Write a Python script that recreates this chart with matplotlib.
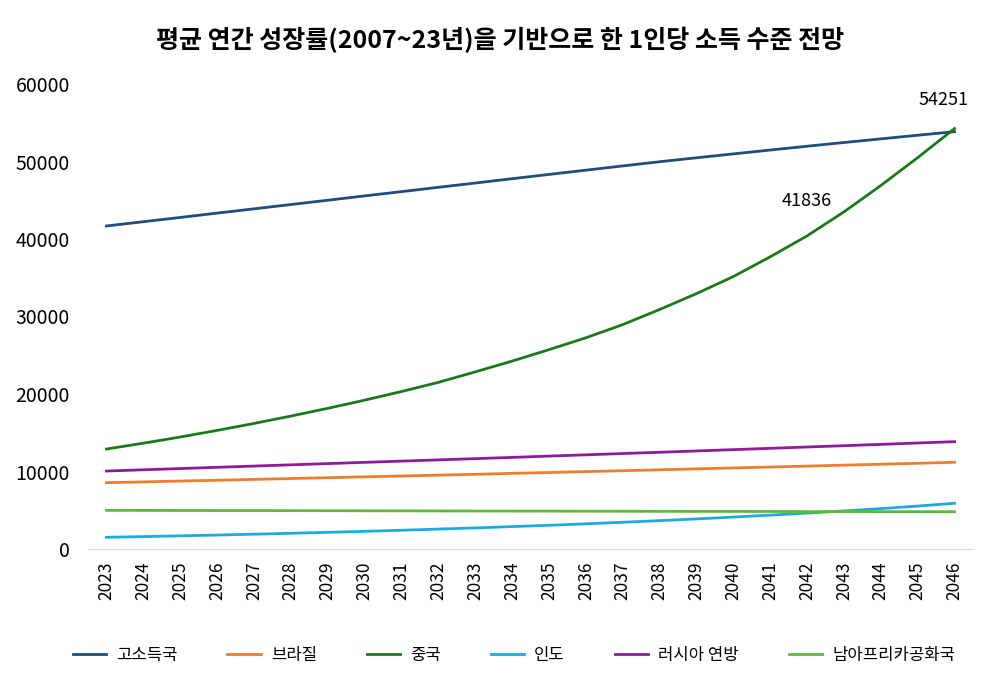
import matplotlib
matplotlib.use("Agg")
import matplotlib.pyplot as plt

plt.rcParams["font.family"] = ["Noto Sans CJK KR", "DejaVu Sans"]

years = list(range(2023, 2047))

high_income = [41680, 42230, 42780, 43340, 43890, 44450, 45000, 45560, 46110,
               46670, 47220, 47780, 48330, 48880, 49430, 49970, 50480, 50980,
               51480, 51970, 52450, 52920, 53390, 53850]
brazil = [8560, 8660, 8770, 8870, 8980, 9090, 9200, 9310, 9420, 9530, 9640,
          9760, 9870, 9990, 10100, 10220, 10340, 10460, 10580, 10700, 10820,
          10940, 11060, 11190]
china = [12900, 13650, 14450, 15300, 16200, 17150, 18150, 19200, 20320, 21500,
         22850, 24250, 25720, 27250, 28950, 30900, 32950, 35150, 37700, 40400,
         43500, 46900, 50500, 54251]
india = [1510, 1600, 1700, 1800, 1910, 2030, 2150, 2280, 2420, 2570, 2720,
         2890, 3060, 3250, 3450, 3660, 3880, 4120, 4370, 4630, 4910, 5210,
         5540, 5900]
russia = [10060, 10220, 10380, 10540, 10700, 10860, 11020, 11180, 11340, 11500,
          11660, 11820, 11990, 12150, 12320, 12480, 12650, 12820, 12990, 13160,
          13330, 13500, 13680, 13850]
south_africa = [4990, 4980, 4970, 4960, 4960, 4950, 4940, 4930, 4920, 4910,
                4900, 4890, 4890, 4880, 4870, 4860, 4850, 4850, 4840, 4830,
                4830, 4820, 4820, 4810]

# data labels shown on the china line
china_labels = {2042: "41836", 2046: "54251"}

series = [
    ("고소득국", high_income, "#1F4E79"),
    ("브라질", brazil, "#ED7D31"),
    ("중국", china, "#1A7A1A"),
    ("인도", india, "#1DA9E1"),
    ("러시아 연방", russia, "#8E1B9A"),
    ("남아프리카공화국", south_africa, "#5CBB3C"),
]

fig = plt.figure(figsize=(9.81, 6.91), dpi=100)
ax = fig.add_axes([88 / 981, 142 / 691, 885 / 981, 465 / 691])

for name, vals, color in series:
    ax.plot(years, vals, color=color, linewidth=2.0, label=name)

ax.set_xlim(2022.5, 2046.5)
ax.set_ylim(0, 60000)
ax.set_yticks(range(0, 60001, 10000))
ax.set_xticks(years)
ax.set_xticklabels([str(y) for y in years], rotation=90, fontsize=12.5)
ax.tick_params(axis="y", labelsize=14, length=0, pad=13)
ax.tick_params(axis="x", length=0, pad=9)

for side in ["top", "right", "left"]:
    ax.spines[side].set_visible(False)
ax.spines["bottom"].set_color("#D9D9D9")

offsets = {2042: (0, 19), 2046: (-8, 14)}
for yr, txt in china_labels.items():
    val = china[years.index(yr)]
    ax.annotate(txt, (yr, val), xytext=offsets[yr], textcoords="offset points",
                ha="center", va="bottom", fontsize=13)

fig.text(500 / 981, 1 - 40 / 691, "평균 연간 성장률(2007~23년)을 기반으로 한 1인당 소득 수준 전망",
         ha="center", va="center", fontsize=18, fontweight="bold")

fig.legend(loc="center", bbox_to_anchor=(514 / 981, 0.052), ncol=6, frameon=False,
           fontsize=12, handlelength=2.0, handletextpad=0.6, columnspacing=3.0)

fig.savefig("out.png", dpi=100)
